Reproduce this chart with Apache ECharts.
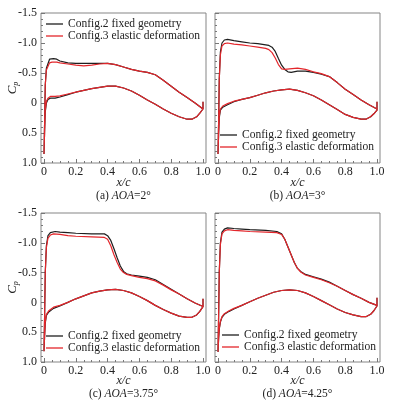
<!DOCTYPE html>
<html lang="en">
<head>
<meta charset="UTF-8">
<title>Cp distributions</title>
<script src="https://cdn.jsdelivr.net/npm/echarts@6.0.0/dist/echarts.min.js"></script>
<style>html,body{margin:0;padding:0;background:#fff;}</style>
</head>
<body>
<div id="main" style="width:398px;height:405px;"></div>
<script>
// series names and panel captions
var seriesNames = ['Config.2 fixed geometry', 'Config.3 elastic deformation'];
var captionTags = ['(a) ', '(b) ', '(c) ', '(d) '];
var captionAoa = ['2°', '3°', '3.75°', '4.25°'];

// (a) AOA = 2 deg, [x/c, Cp]
var aBlackUp = [[0,0.85],[0.004,0.3],[0.008,-0.3],[0.015,-0.58],[0.025,-0.7],[0.035,-0.73],[0.06,-0.74],[0.08,-0.73],[0.1,-0.7],[0.15,-0.67],[0.2,-0.66],[0.3,-0.66],[0.4,-0.66],[0.45,-0.64],[0.5,-0.6],[0.55,-0.56],[0.6,-0.53],[0.65,-0.51],[0.7,-0.47],[0.75,-0.38],[0.8,-0.28],[0.85,-0.18],[0.9,-0.09],[0.95,0.0],[1.0,0.1]];
var aRedUp = [[0,0.85],[0.004,0.3],[0.008,-0.3],[0.015,-0.55],[0.025,-0.64],[0.035,-0.67],[0.05,-0.68],[0.08,-0.68],[0.1,-0.67],[0.15,-0.65],[0.2,-0.63],[0.25,-0.62],[0.3,-0.63],[0.35,-0.65],[0.4,-0.66],[0.45,-0.64],[0.5,-0.6],[0.55,-0.56],[0.6,-0.53],[0.65,-0.51],[0.7,-0.47],[0.75,-0.38],[0.8,-0.28],[0.85,-0.18],[0.9,-0.09],[0.95,0.0],[1.0,0.1]];
var aBlackLow = [[0,0.85],[0.004,0.45],[0.008,0.15],[0.015,0.0],[0.025,-0.06],[0.04,-0.08],[0.07,-0.08],[0.1,-0.1],[0.15,-0.14],[0.2,-0.18],[0.25,-0.21],[0.3,-0.24],[0.35,-0.26],[0.4,-0.28],[0.45,-0.28],[0.5,-0.25],[0.55,-0.2],[0.6,-0.13],[0.65,-0.05],[0.7,0.02],[0.75,0.1],[0.8,0.17],[0.85,0.23],[0.9,0.27],[0.93,0.27],[0.96,0.23],[0.98,0.17],[1.0,0.1],[1.0,-0.02]];
var aRedLow = [[0,0.85],[0.004,0.45],[0.008,0.12],[0.015,-0.03],[0.025,-0.08],[0.04,-0.11],[0.07,-0.11],[0.1,-0.12],[0.15,-0.15],[0.2,-0.18],[0.25,-0.21],[0.3,-0.24],[0.35,-0.26],[0.4,-0.28],[0.45,-0.28],[0.5,-0.25],[0.55,-0.2],[0.6,-0.13],[0.65,-0.05],[0.7,0.02],[0.75,0.1],[0.8,0.17],[0.85,0.23],[0.9,0.27],[0.93,0.27],[0.96,0.23],[0.98,0.17],[1.0,0.1],[1.0,-0.02]];

// (b) AOA = 3 deg
var bBlackUp = [[0,0.85],[0.004,0.3],[0.008,-0.4],[0.015,-0.85],[0.025,-1.0],[0.04,-1.05],[0.06,-1.06],[0.1,-1.04],[0.15,-1.02],[0.2,-1.0],[0.25,-0.99],[0.3,-0.97],[0.32,-0.96],[0.34,-0.93],[0.36,-0.86],[0.38,-0.74],[0.4,-0.63],[0.42,-0.56],[0.44,-0.52],[0.46,-0.51],[0.5,-0.53],[0.55,-0.53],[0.6,-0.51],[0.65,-0.48],[0.7,-0.44],[0.75,-0.34],[0.8,-0.23],[0.85,-0.14],[0.9,-0.05],[0.95,0.03],[1.0,0.1]];
var bRedUp = [[0,0.85],[0.004,0.3],[0.008,-0.4],[0.015,-0.8],[0.025,-0.95],[0.04,-0.99],[0.06,-1.0],[0.1,-0.98],[0.15,-0.97],[0.2,-0.95],[0.25,-0.93],[0.3,-0.91],[0.32,-0.89],[0.34,-0.84],[0.36,-0.75],[0.38,-0.64],[0.4,-0.57],[0.42,-0.56],[0.45,-0.57],[0.5,-0.58],[0.55,-0.56],[0.6,-0.52],[0.65,-0.49],[0.7,-0.44],[0.75,-0.34],[0.8,-0.23],[0.85,-0.14],[0.9,-0.05],[0.95,0.03],[1.0,0.1]];
var bBlackLow = [[0,0.85],[0.004,0.5],[0.008,0.25],[0.015,0.12],[0.03,0.07],[0.06,0.03],[0.1,-0.02],[0.15,-0.06],[0.2,-0.09],[0.25,-0.13],[0.3,-0.17],[0.35,-0.2],[0.4,-0.22],[0.45,-0.23],[0.5,-0.21],[0.55,-0.17],[0.6,-0.12],[0.65,-0.05],[0.7,0.03],[0.75,0.11],[0.8,0.19],[0.85,0.24],[0.9,0.27],[0.93,0.27],[0.96,0.23],[0.98,0.18],[1.0,0.12],[1.0,-0.02]];
var bRedLow = [[0,0.85],[0.004,0.5],[0.008,0.22],[0.015,0.1],[0.03,0.05],[0.06,0.01],[0.1,-0.03],[0.15,-0.06],[0.2,-0.09],[0.25,-0.13],[0.3,-0.17],[0.35,-0.2],[0.4,-0.22],[0.45,-0.23],[0.5,-0.21],[0.55,-0.17],[0.6,-0.12],[0.65,-0.05],[0.7,0.03],[0.75,0.11],[0.8,0.19],[0.85,0.24],[0.9,0.27],[0.93,0.27],[0.96,0.23],[0.98,0.18],[1.0,0.12],[1.0,-0.02]];

// (c) AOA = 3.75 deg
var cBlackUp = [[0,0.82],[0.004,0.2],[0.008,-0.5],[0.015,-0.95],[0.025,-1.12],[0.04,-1.17],[0.07,-1.19],[0.1,-1.18],[0.15,-1.17],[0.2,-1.16],[0.3,-1.15],[0.38,-1.15],[0.4,-1.12],[0.42,-1.04],[0.44,-0.9],[0.46,-0.75],[0.48,-0.61],[0.5,-0.52],[0.52,-0.48],[0.55,-0.46],[0.6,-0.44],[0.65,-0.42],[0.7,-0.38],[0.75,-0.3],[0.8,-0.22],[0.85,-0.14],[0.9,-0.06],[0.95,0.01],[1.0,0.07]];
var cRedUp = [[0,0.82],[0.004,0.2],[0.008,-0.5],[0.015,-0.92],[0.025,-1.08],[0.04,-1.13],[0.06,-1.15],[0.1,-1.14],[0.15,-1.12],[0.2,-1.11],[0.3,-1.1],[0.38,-1.09],[0.4,-1.06],[0.42,-0.95],[0.44,-0.8],[0.46,-0.67],[0.48,-0.56],[0.5,-0.5],[0.52,-0.47],[0.55,-0.45],[0.6,-0.42],[0.65,-0.4],[0.7,-0.36],[0.75,-0.29],[0.8,-0.21],[0.85,-0.14],[0.9,-0.06],[0.95,0.01],[1.0,0.07]];
var cBlackLow = [[0,0.82],[0.004,0.55],[0.008,0.35],[0.015,0.22],[0.03,0.16],[0.06,0.1],[0.1,0.06],[0.15,0.0],[0.2,-0.06],[0.25,-0.11],[0.3,-0.16],[0.35,-0.19],[0.4,-0.21],[0.45,-0.22],[0.5,-0.2],[0.55,-0.16],[0.6,-0.1],[0.65,-0.03],[0.7,0.05],[0.75,0.12],[0.8,0.18],[0.85,0.23],[0.9,0.25],[0.93,0.25],[0.96,0.21],[0.98,0.15],[1.0,0.07],[1.0,-0.06]];
var cRedLow = [[0,0.82],[0.004,0.55],[0.008,0.33],[0.015,0.2],[0.03,0.14],[0.06,0.08],[0.1,0.05],[0.15,0.0],[0.2,-0.06],[0.25,-0.11],[0.3,-0.16],[0.35,-0.19],[0.4,-0.21],[0.45,-0.22],[0.5,-0.2],[0.55,-0.16],[0.6,-0.1],[0.65,-0.03],[0.7,0.05],[0.75,0.12],[0.8,0.18],[0.85,0.23],[0.9,0.25],[0.93,0.25],[0.96,0.21],[0.98,0.15],[1.0,0.07],[1.0,-0.06]];

// (d) AOA = 4.25 deg
var dBlackUp = [[0,0.83],[0.004,0.2],[0.008,-0.5],[0.015,-1.0],[0.025,-1.18],[0.04,-1.23],[0.06,-1.25],[0.1,-1.24],[0.15,-1.23],[0.2,-1.22],[0.3,-1.21],[0.37,-1.19],[0.4,-1.15],[0.42,-1.06],[0.44,-0.93],[0.46,-0.8],[0.48,-0.67],[0.5,-0.57],[0.52,-0.52],[0.55,-0.47],[0.6,-0.43],[0.65,-0.39],[0.7,-0.34],[0.75,-0.27],[0.8,-0.2],[0.85,-0.13],[0.9,-0.07],[0.95,0.0],[1.0,0.05]];
var dRedUp = [[0,0.83],[0.004,0.2],[0.008,-0.5],[0.015,-0.97],[0.025,-1.15],[0.04,-1.2],[0.06,-1.22],[0.1,-1.21],[0.15,-1.2],[0.2,-1.19],[0.3,-1.18],[0.37,-1.17],[0.4,-1.14],[0.42,-1.06],[0.44,-0.93],[0.46,-0.8],[0.48,-0.67],[0.5,-0.57],[0.52,-0.51],[0.55,-0.46],[0.6,-0.42],[0.65,-0.38],[0.7,-0.33],[0.75,-0.27],[0.8,-0.2],[0.85,-0.13],[0.9,-0.07],[0.95,0.0],[1.0,0.05]];
var dBlackLow = [[0,0.83],[0.004,0.6],[0.008,0.45],[0.015,0.33],[0.025,0.25],[0.04,0.2],[0.07,0.15],[0.1,0.11],[0.15,0.05],[0.2,-0.01],[0.25,-0.07],[0.3,-0.12],[0.35,-0.17],[0.4,-0.2],[0.45,-0.21],[0.5,-0.2],[0.55,-0.16],[0.6,-0.1],[0.65,-0.03],[0.7,0.04],[0.75,0.11],[0.8,0.17],[0.85,0.21],[0.9,0.24],[0.93,0.24],[0.96,0.2],[0.98,0.14],[1.0,0.06],[1.0,-0.08]];
var dRedLow = [[0,0.83],[0.004,0.6],[0.008,0.44],[0.015,0.32],[0.025,0.24],[0.04,0.19],[0.07,0.14],[0.1,0.1],[0.15,0.05],[0.2,-0.01],[0.25,-0.07],[0.3,-0.12],[0.35,-0.17],[0.4,-0.2],[0.45,-0.21],[0.5,-0.2],[0.55,-0.16],[0.6,-0.1],[0.65,-0.03],[0.7,0.04],[0.75,0.11],[0.8,0.17],[0.85,0.21],[0.9,0.24],[0.93,0.24],[0.96,0.2],[0.98,0.14],[1.0,0.06],[1.0,-0.08]];

var panelData = [
    [[aBlackUp, aBlackLow], [aRedUp, aRedLow]],
    [[bBlackUp, bBlackLow], [bRedUp, bRedLow]],
    [[cBlackUp, cBlackLow], [cRedUp, cRedLow]],
    [[dBlackUp, dBlackLow], [dRedUp, dRedLow]]
];

// frame boxes [left, top, width, height] and legend spots [left, top]
var frames = [[41, 13, 165, 150], [215, 13, 165, 150], [41, 213, 165, 149], [215, 213, 165, 149]];
var legendPos = [[46, 18], [220, 129], [46, 330], [222, 329]];
var nameGaps = [13, 13, 12, 12];

var font = '"Liberation Serif", "Times New Roman", serif';
var colors = ['#1e1e1e', '#e3262b'];

var chart = echarts.init(document.getElementById('main'));

var grid = [], xAxis = [], yAxis = [], series = [], legend = [];

frames.forEach(function (f, i) {
    var leftCol = (i % 2 === 0);
    // data area, x from 0 to 1
    grid.push({ left: f[0] + 3, top: f[1], width: f[2] - 6, height: f[3], outerBoundsMode: 'none' });
    xAxis.push({
        type: 'value', gridIndex: i, min: 0, max: 1, interval: 0.2,
        position: 'bottom',
        axisLine: { show: false, onZero: false },
        axisTick: { inside: true, length: 4, lineStyle: { color: '#777' } },
        minorTick: { show: true, splitNumber: 4, length: 2, lineStyle: { color: '#777' } },
        splitLine: { show: false },
        axisLabel: {
            margin: 3, color: '#222', fontSize: 12, fontFamily: font,
            formatter: function (v) { return v === 0 ? '0' : v.toFixed(1); }
        },
        name: '{xc|x/c}\n{cap|' + captionTags[i] + '}{capi|AOA}{cap|=' + captionAoa[i] + '}',
        nameLocation: 'middle',
        nameGap: nameGaps[i],
        nameMoveOverlap: false,
        nameTextStyle: {
            fontFamily: font,
            rich: {
                xc: { fontSize: 12, fontStyle: 'italic', fontFamily: font, color: '#222', lineHeight: 13 },
                cap: { fontSize: 11.5, fontFamily: font, color: '#222', lineHeight: 13 },
                capi: { fontSize: 11.5, fontStyle: 'italic', fontFamily: font, color: '#222', lineHeight: 13 }
            }
        }
    });
    yAxis.push({
        type: 'value', gridIndex: i, min: -1.5, max: 1.0, interval: 0.5, inverse: true,
        position: 'left',
        offset: 3,
        axisLine: { show: false, onZero: false },
        axisTick: { inside: true, length: 4, lineStyle: { color: '#777' } },
        minorTick: { show: true, splitNumber: 5, length: 2, lineStyle: { color: '#777' } },
        splitLine: { show: false },
        axisLabel: {
            show: leftCol, margin: 4, color: '#222', fontSize: 12, fontFamily: font,
            formatter: function (v) { return v === 0 ? '0' : v.toFixed(1); }
        },
        name: leftCol ? '{c|C}{p|p}' : '',
        nameLocation: 'middle',
        nameRotate: 90,
        nameGap: 21,
        nameMoveOverlap: false,
        nameTextStyle: {
            rich: {
                c: { fontSize: 13, fontStyle: 'italic', fontFamily: font, color: '#222', lineHeight: 14, verticalAlign: 'middle' },
                p: { fontSize: 8, fontStyle: 'italic', fontFamily: font, color: '#222', lineHeight: 8, verticalAlign: 'bottom', padding: [4, 0, 0, 0] }
            }
        }
    });
    panelData[i].forEach(function (surf, k) {
        series.push({
            name: seriesNames[k],
            type: 'line',
            xAxisIndex: i, yAxisIndex: i,
            symbol: 'none',
            animation: false,
            lineStyle: { color: colors[k], width: 1.2 },
            itemStyle: { color: colors[k] },
            // upper surface from trailing edge to leading edge, then lower surface back
            data: surf[0].slice().reverse().concat(surf[1])
        });
    });
    legend.push({
        data: seriesNames,
        orient: 'vertical',
        left: legendPos[i][0], top: legendPos[i][1],
        padding: 0, itemGap: 0,
        icon: 'rect',
        itemWidth: 17, itemHeight: 1.3,
        textStyle: { fontSize: 11.5, fontFamily: font, color: '#222', lineHeight: 11.5 }
    });
});

// outer frames, slightly wider than the 0..1 data range
frames.forEach(function (f, i) {
    grid.push({ left: f[0], top: f[1], width: f[2], height: f[3], show: true, borderColor: '#858585', borderWidth: 1, backgroundColor: 'transparent', outerBoundsMode: 'none' });
    xAxis.push({ type: 'value', gridIndex: 4 + i, show: false });
    yAxis.push({ type: 'value', gridIndex: 4 + i, show: false });
});

var option = {
    backgroundColor: '#fff',
    animation: false,
    grid: grid,
    xAxis: xAxis,
    yAxis: yAxis,
    legend: legend,
    series: series
};

option && chart.setOption(option);
</script>
</body>
</html>
